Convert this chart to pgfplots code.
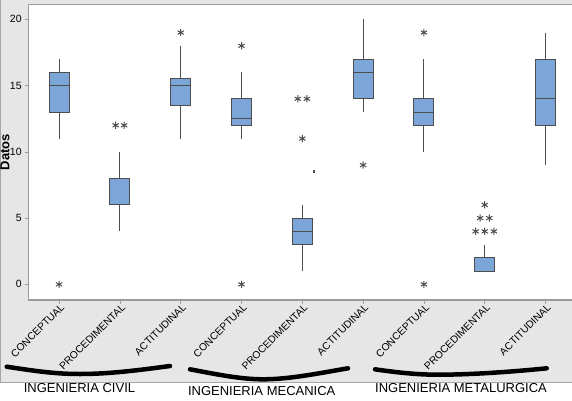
\documentclass[border=0pt]{standalone}
\usepackage{fontspec}
\setmainfont{Liberation Sans}
\usepackage{pgfplots}
\pgfplotsset{compat=1.18}
\usepgfplotslibrary{statistics}
\definecolor{boxfill}{RGB}{124,166,216}
\definecolor{boxedge}{RGB}{77,77,77}
\definecolor{bggrey}{RGB}{230,230,230}
\definecolor{framegrey}{RGB}{155,155,155}
\begin{document}
\begin{tikzpicture}[x=1pt,y=1pt]
\fill[bggrey] (0,18) rectangle (572,400);
\draw[gray!70, line width=0.6pt] (0.3,18) -- (0.3,400);
\draw[gray!70, line width=0.6pt] (0,18) -- (572,18);
\begin{axis}[
  at={(28.7pt,100pt)}, anchor=south west,
  scale only axis, width=551pt, height=295.7pt,
  xmin=0.5, xmax=9.562, ymin=-1.18, ymax=21.13,
  axis background/.style={fill=white},
  axis line style={framegrey, line width=1.2pt},
  xtick={1,...,9},
  xticklabels={CONCEPTUAL,PROCEDIMENTAL,ACTITUDINAL,CONCEPTUAL,PROCEDIMENTAL,ACTITUDINAL,CONCEPTUAL,PROCEDIMENTAL,ACTITUDINAL},
  ytick={0,5,10,15,20},
  tick align=outside, tick pos=left,
  major tick length=3.5pt,
  tick style={framegrey, line width=0.6pt},
  xticklabel style={rotate=45, anchor=east, font=\fontsize{10.3}{11}\selectfont, inner sep=1pt, xshift=2pt, yshift=-4pt},
  yticklabel style={font=\fontsize{10.5}{12}\selectfont},
  /pgf/number format/assume math mode=true,
  ylabel={Datos},
  ylabel style={font=\bfseries\fontsize{13}{15}\selectfont, at={(axis description cs:-0.043,0.5)}, anchor=center, rotate=0},
  boxplot/draw direction=y,
  boxplot/box extend=0.33,
  boxplot/whisker extend=0,
  clip=false,
]
% INGENIERIA CIVIL
\addplot[boxplot prepared={draw position=1, lower whisker=11, lower quartile=13, median=15, upper quartile=16, upper whisker=17}, draw=boxedge, fill=boxfill, line width=1pt] coordinates {};
\addplot[boxplot prepared={draw position=2, lower whisker=4, lower quartile=6, median=8, upper quartile=8, upper whisker=10}, draw=boxedge, fill=boxfill, line width=1pt] coordinates {};
\addplot[boxplot prepared={draw position=3, lower whisker=11, lower quartile=13.5, median=15, upper quartile=15.5, upper whisker=18}, draw=boxedge, fill=boxfill, line width=1pt] coordinates {};
% INGENIERIA MECANICA
\addplot[boxplot prepared={draw position=4, lower whisker=11, lower quartile=12, median=12.5, upper quartile=14, upper whisker=16}, draw=boxedge, fill=boxfill, line width=1pt] coordinates {};
\addplot[boxplot prepared={draw position=5, lower whisker=1, lower quartile=3, median=4, upper quartile=5, upper whisker=6}, draw=boxedge, fill=boxfill, line width=1pt] coordinates {};
\addplot[boxplot prepared={draw position=6, lower whisker=13, lower quartile=14, median=16, upper quartile=17, upper whisker=20}, draw=boxedge, fill=boxfill, line width=1pt] coordinates {};
% INGENIERIA METALURGICA
\addplot[boxplot prepared={draw position=7, lower whisker=10, lower quartile=12, median=13, upper quartile=14, upper whisker=17}, draw=boxedge, fill=boxfill, line width=1pt] coordinates {};
\addplot[boxplot prepared={draw position=8, lower whisker=1, lower quartile=1, median=2, upper quartile=2, upper whisker=3}, draw=boxedge, fill=boxfill, line width=1pt] coordinates {};
\addplot[boxplot prepared={draw position=9, lower whisker=9, lower quartile=12, median=14, upper quartile=17, upper whisker=19}, draw=boxedge, fill=boxfill, line width=1pt] coordinates {};
% outliers
\addplot[only marks, mark=asterisk, mark size=3.6pt, mark options={draw=boxedge, line width=1pt}] coordinates {
(1,0) (1.93,12) (2.07,12) (3,19) (4,18) (4,0)
(4.925,14) (5.075,14) (5,11) (6,9) (7,19) (7,0)
(8,6) (7.925,5) (8.075,5) (7.85,4) (8,4) (8.15,4)};
\addplot[only marks, mark=square*, mark size=0.8pt, boxedge] coordinates {(5.19,8.55)};
\end{axis}
\draw[line width=4.5pt, line cap=round] (6.7,33.3) .. controls (35,29) and (55,26) .. (80,26) .. controls (110,26) and (140,30) .. (170,34);
\draw[line width=4.5pt, line cap=round] (190,30.7) .. controls (215,26) and (240,20.7) .. (263,20.7) .. controls (290,20.7) and (320,27) .. (348,31.7);
\draw[line width=4.5pt, line cap=round] (375,30.7) .. controls (400,27) and (420,25.3) .. (437,25.3) .. controls (470,25.3) and (510,28) .. (546.7,31.7);
\node[font=\fontsize{13}{15}\selectfont] at (79.5,11.5) {INGENIERIA CIVIL};
\node[font=\fontsize{13}{15}\selectfont] at (261.7,8.5) {INGENIERIA MECANICA};
\node[font=\fontsize{13}{15}\selectfont] at (461,12) {INGENIERIA METALURGICA};
\pgfresetboundingbox
\useasboundingbox (0,0) rectangle (572,400);
\end{tikzpicture}
\end{document}
